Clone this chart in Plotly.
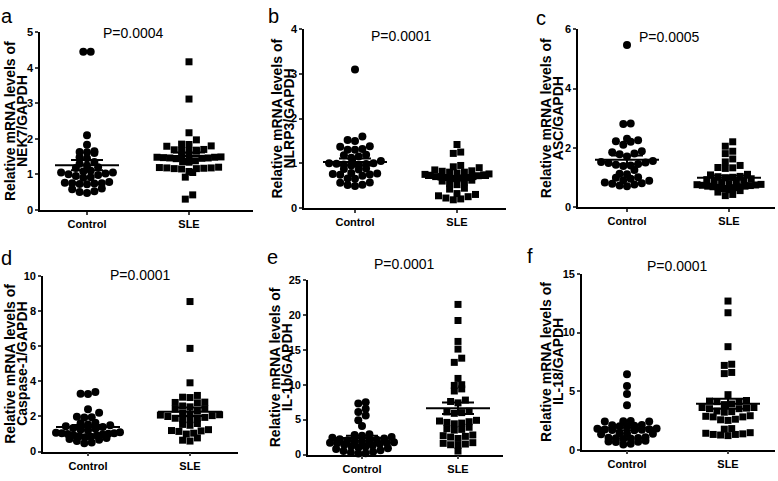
import numpy as np
import plotly.graph_objects as go

W, H = 778, 481

categories = ["Control", "SLE"]
panel_letters = ["a", "b", "c", "d", "e", "f"]
p_values = ["P=0.0004", "P=0.0001", "P=0.0005", "P=0.0001", "P=0.0001", "P=0.0001"]
genes = ["NEK7/GAPDH", "NLRP3/GAPDH", "ASC/GAPDH", "Caspase-1/GAPDH", "IL-1b/GAPDH", "IL-18/GAPDH"]
y_max = [5, 4, 6, 10, 25, 15]
y_dtick = [1, 1, 2, 2, 5, 5]

control_a = [4.45, 4.45, 2.10, 1.83, 1.65, 1.62, 1.60, 1.63, 1.48, 1.45, 1.35, 1.30, 1.25, 1.20, 1.18,
             1.10, 1.08, 1.05, 1.05, 1.02, 1.00, 0.98, 0.95, 0.92, 0.90, 0.78, 0.76, 0.75, 0.74, 0.73,
             0.72, 0.75, 0.60, 0.58, 0.50, 0.47, 0.52]
sle_a = [4.17, 3.12, 2.17, 1.97, 1.85, 1.84, 1.80, 1.79, 1.70, 1.69, 1.68, 1.67, 1.66, 1.65, 1.52, 1.50,
         1.49, 1.48, 1.48, 1.47, 1.46, 1.46, 1.45, 1.44, 1.38, 1.36, 1.34, 1.20, 1.19, 1.18, 1.18, 1.17,
         1.16, 1.16, 1.15, 1.08, 1.05, 0.92, 0.42, 0.30]

control_b = [3.10, 1.60, 1.52, 1.50, 1.38, 1.37, 1.32, 1.30, 1.30, 1.19, 1.18, 1.15, 1.12, 1.05, 1.00,
             1.00, 0.99, 0.98, 0.97, 0.96, 0.95, 0.88, 0.87, 0.86, 0.78, 0.77, 0.76, 0.75, 0.74, 0.72,
             0.66, 0.65, 0.57, 0.56, 0.52, 0.51, 0.49]
sle_b = [1.42, 1.25, 1.22, 0.95, 0.92, 0.90, 0.85, 0.83, 0.82, 0.80, 0.80, 0.78, 0.76, 0.75, 0.74, 0.73,
         0.72, 0.70, 0.70, 0.69, 0.68, 0.68, 0.67, 0.66, 0.65, 0.62, 0.60, 0.58, 0.55, 0.52, 0.44, 0.42,
         0.32, 0.30, 0.27, 0.25, 0.22, 0.20, 0.18]

control_c = [5.47, 2.82, 2.80, 2.30, 2.25, 2.22, 2.20, 2.10, 1.88, 1.85, 1.80, 1.78, 1.70, 1.55, 1.52,
             1.50, 1.48, 1.45, 1.42, 1.40, 1.38, 1.25, 1.12, 1.10, 1.00, 0.98, 0.95, 0.90, 0.88, 0.82,
             0.80, 0.78, 0.76, 0.72, 0.70]
sle_c = [2.20, 2.05, 1.88, 1.80, 1.62, 1.52, 1.40, 1.33, 1.32, 1.30, 1.10, 1.08, 0.70, 0.68, 0.66, 1.03,
         1.02, 1.00, 0.98, 0.95, 0.92, 0.90, 0.88, 0.85, 0.80, 0.78, 0.76, 0.75, 0.74, 0.73, 0.72, 0.70,
         0.68, 0.65, 0.62, 0.58, 0.55, 0.50, 0.42, 0.38]

control_d = [3.40, 3.30, 3.28, 2.42, 2.22, 1.98, 1.96, 1.95, 1.65, 1.62, 1.55, 1.50, 1.45, 1.40, 1.35,
             1.30, 1.25, 1.20, 1.10, 1.08, 1.05, 1.04, 1.02, 1.00, 0.98, 0.95, 0.92, 0.88, 0.85, 0.82,
             0.78, 0.72, 0.68, 0.60, 0.52, 0.48]
sle_d = [8.55, 5.88, 3.92, 3.20, 3.10, 3.08, 2.82, 2.80, 2.78, 2.60, 2.55, 2.45, 2.42, 2.30, 2.20, 2.15,
         2.10, 2.08, 2.05, 2.00, 1.95, 1.90, 1.88, 1.85, 1.82, 1.60, 1.55, 1.50, 1.25, 1.20, 1.18, 1.15,
         1.05, 1.00, 0.78, 0.65, 0.60]

control_e = [7.50, 7.30, 6.55, 6.10, 5.60, 4.90, 4.10, 2.90, 2.80, 2.70, 2.50, 2.40, 2.30, 2.20, 2.10,
             2.00, 1.90, 1.85, 1.80, 1.75, 1.70, 1.65, 1.60, 1.50, 1.40, 1.30, 1.20, 1.10, 1.00, 0.90,
             0.80, 0.60, 0.50, 0.40, 0.30, 0.20, 0.15]
sle_e = [21.5, 19.2, 16.2, 15.1, 13.8, 13.2, 10.9, 10.0, 9.9, 9.4, 9.1, 7.8, 7.6, 7.4, 6.2, 6.1, 6.0,
         5.9, 4.9, 4.8, 4.7, 4.6, 4.5, 4.4, 3.9, 3.7, 3.6, 3.5, 2.8, 2.7, 2.6, 2.5, 2.3, 1.7, 1.6, 1.5,
         1.4, 1.3, 0.5]

control_f = [6.45, 5.45, 4.75, 3.80, 2.45, 2.42, 2.40, 2.40, 2.10, 2.08, 2.05, 2.00, 1.95, 1.80, 1.78,
             1.75, 1.72, 1.70, 1.68, 1.65, 1.40, 1.38, 1.35, 1.32, 1.05, 1.02, 1.00, 0.98, 0.95, 0.92,
             0.75, 0.70, 0.68, 0.65, 0.50, 0.45]
sle_f = [12.7, 11.7, 8.8, 7.3, 7.2, 6.6, 6.5, 4.7, 4.2, 4.15, 4.1, 4.1, 3.9, 3.85, 3.6, 3.6, 3.55, 3.5,
         3.5, 3.3, 3.25, 3.2, 2.9, 2.85, 2.8, 2.8, 2.6, 2.55, 2.5, 1.8, 1.75, 1.45, 1.4, 1.35, 1.3, 1.3,
         1.25, 1.2]

groups = [(control_a, sle_a), (control_b, sle_b), (control_c, sle_c),
          (control_d, sle_d), (control_e, sle_e), (control_f, sle_f)]

# pixel layout of each panel: axis box, category pixel positions, label positions
boxes = [
    dict(x0=40, x1=253, yt=27, yb=209, cx=87, sx=189, t1=10, t2=22, px=133, py=28, lx=7, ly=10),
    dict(x0=304, x1=506, yt=24, yb=207, cx=355, sx=457, t1=277, t2=289, px=401, py=31, lx=273, ly=10),
    dict(x0=578, x1=775, yt=24, yb=206, cx=627, sx=729, t1=546, t2=558, px=669, py=32, lx=541, ly=12),
    dict(x0=43, x1=238, yt=277, yb=457, cx=88, sx=190, t1=10, t2=22, px=140, py=276, lx=6, ly=258),
    dict(x0=308, x1=503, yt=281, yb=460, cx=362, sx=458, t1=275, t2=287, px=404, py=265, lx=272, ly=257),
    dict(x0=582, x1=775, yt=275, yb=455, cx=627, sx=728, t1=546, t2=558, px=677, py=267, lx=530, ly=256),
]

FONT = "Liberation Sans, Arial, sans-serif"


def swarm(values, px_per_val, d=7.4, row_h=5.5, maxhalf=32.0):
    """GraphPad-like column scatter: group close values into rows, spread each row sideways."""
    ys = np.asarray(values, dtype=float) * px_per_val
    order = np.argsort(ys, kind="stable")
    rows, cur, start = [], [], None
    for i in order:
        if start is None or ys[i] - start >= row_h:
            if cur:
                rows.append(cur)
            cur, start = [i], ys[i]
        else:
            cur.append(i)
    if cur:
        rows.append(cur)
    xs = np.zeros(len(ys))
    for row in rows:
        n = len(row)
        sp = d if (n - 1) * d <= 2 * maxhalf else 2 * maxhalf / (n - 1)
        pos = (np.arange(n) - (n - 1) / 2) * sp
        slots = np.argsort(np.abs(pos), kind="stable")
        for k, j in enumerate(row):
            xs[j] = pos[slots[k]]
    return xs


fig = go.Figure()
layout = {}
annotations = []

for p, (box, (ctrl, sle)) in enumerate(zip(boxes, groups)):
    idx = "" if p == 0 else str(p + 1)
    xa, ya = "x" + idx, "y" + idx
    ppu = box["sx"] - box["cx"]
    width = box["x1"] - box["x0"]
    xr = [-(box["cx"] - box["x0"]) / ppu, (width - (box["cx"] - box["x0"])) / ppu]
    px_per_val = (box["yb"] - box["yt"]) / y_max[p]

    for g, (vals, sym, size) in enumerate([(ctrl, "circle", 8), (sle, "square", 7)]):
        off = swarm(vals, px_per_val) / ppu
        fig.add_trace(go.Scatter(
            x=g + off, y=vals, mode="markers", xaxis=xa, yaxis=ya,
            marker=dict(symbol=sym, size=size, color="black", line=dict(width=0)),
            cliponaxis=False, showlegend=False, hoverinfo="y"))
        arr = np.asarray(vals)
        m = arr.mean()
        sem = arr.std(ddof=1) / np.sqrt(len(arr))
        hw = 32 / ppu
        sw = 16 / ppu
        lx = [g - hw, g + hw, None, g - sw, g + sw, None, g - sw, g + sw, None, g, g]
        ly = [m, m, None, m + sem, m + sem, None, m - sem, m - sem, None, m - sem, m + sem]
        fig.add_trace(go.Scatter(
            x=lx, y=ly, mode="lines", xaxis=xa, yaxis=ya,
            line=dict(color="black", width=2), showlegend=False, hoverinfo="skip",
            cliponaxis=False))

    layout["xaxis" + idx] = dict(
        domain=[box["x0"] / W, box["x1"] / W], anchor=ya, range=xr,
        tickvals=[0, 1], ticktext=categories, ticks="outside", ticklen=3, tickwidth=1.5,
        showline=True, linewidth=1.6, linecolor="black", showgrid=False, zeroline=False,
        tickfont=dict(family=FONT, size=11, color="black", weight="bold"), fixedrange=True)
    layout["yaxis" + idx] = dict(
        domain=[1 - box["yb"] / H, 1 - box["yt"] / H], anchor=xa, range=[0, y_max[p]],
        tick0=0, dtick=y_dtick[p], ticks="outside", ticklen=3, tickwidth=1.5,
        showline=True, linewidth=1.6, linecolor="black", showgrid=False, zeroline=False,
        tickfont=dict(family=FONT, size=11, color="black", weight="bold"), fixedrange=True)

    yc = 1 - (box["yt"] + box["yb"]) / 2 / H
    annotations.append(dict(text="Relative mRNA levels of", x=box["t1"] / W, y=yc, xref="paper",
                            yref="paper", textangle=-90, showarrow=False, xanchor="center",
                            yanchor="middle",
                            font=dict(family=FONT, size=14, color="black", weight="bold")))
    annotations.append(dict(text=genes[p], x=box["t2"] / W, y=yc, xref="paper", yref="paper",
                            textangle=-90, showarrow=False, xanchor="center", yanchor="middle",
                            font=dict(family=FONT, size=14, color="black", weight="bold")))
    annotations.append(dict(text=p_values[p], x=box["px"] / W, y=1 - box["py"] / H, xref="paper",
                            yref="paper", showarrow=False, xanchor="center", yanchor="middle",
                            font=dict(family=FONT, size=14, color="black")))
    annotations.append(dict(text=panel_letters[p], x=box["lx"] / W, y=1 - box["ly"] / H,
                            xref="paper", yref="paper", showarrow=False, xanchor="center",
                            yanchor="middle", font=dict(family=FONT, size=20, color="black")))

fig.update_layout(
    width=W, height=H, margin=dict(l=0, r=0, t=0, b=0),
    paper_bgcolor="white", plot_bgcolor="white", annotations=annotations, **layout)

fig.write_html("out.html", config={"displayModeBar": False},
               post_script="document.body.style.margin='0';"
               "document.body.style.padding='0';document.body.style.overflow='hidden';")
